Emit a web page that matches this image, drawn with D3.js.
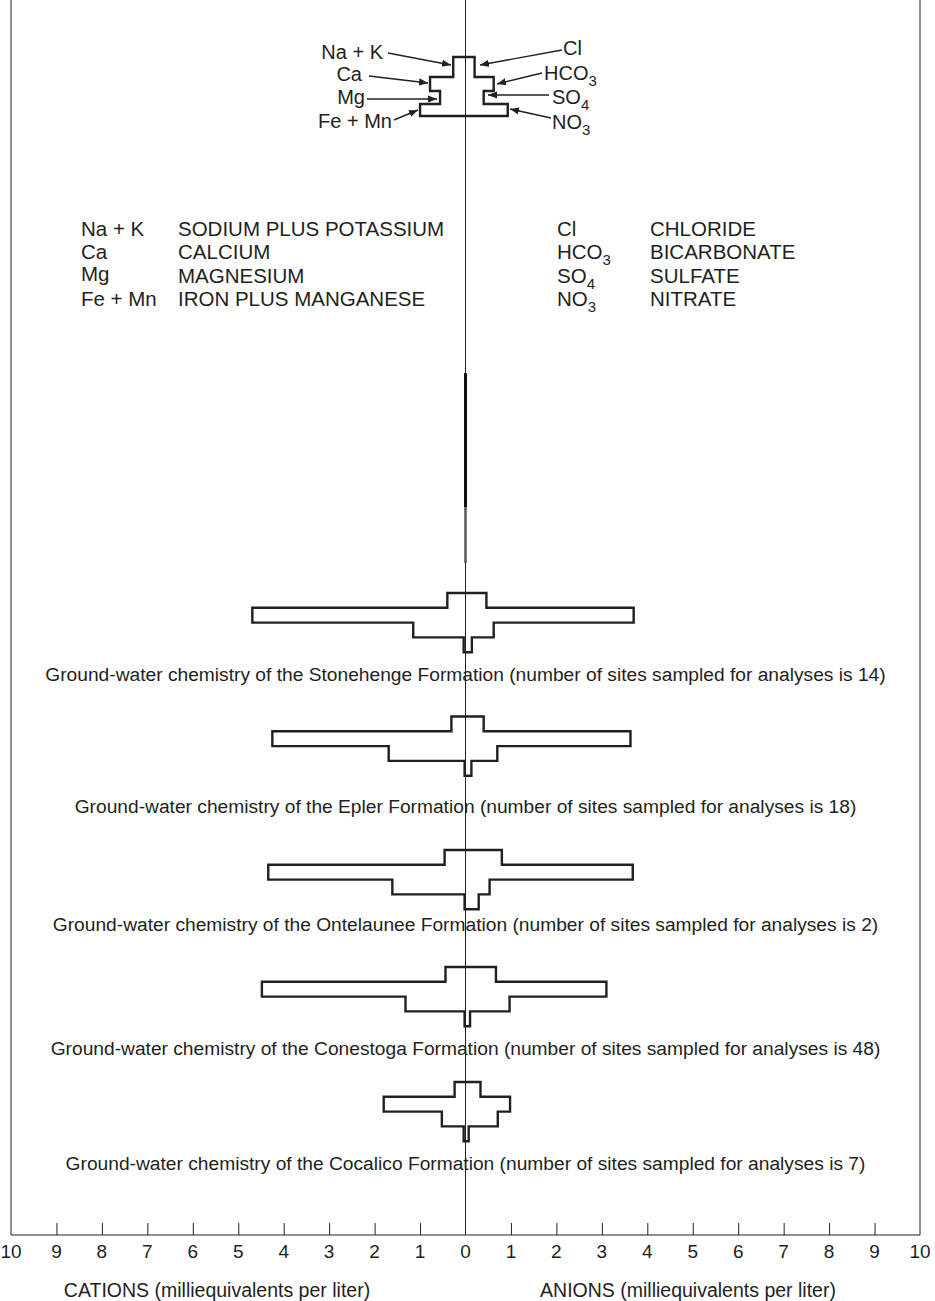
<!DOCTYPE html>
<meta charset="utf-8">
<style>
body { margin: 0; background: #fff; }
svg { font-family: "Liberation Sans", Arial, Helvetica, sans-serif; fill: #231f20; }
.frame, .center { stroke: #231f20; fill: none; }
.stiff { fill: none; stroke: #231f20; stroke-width: 2.4; stroke-linejoin: miter; }
.arrow { stroke: #231f20; stroke-width: 1.4; }
</style>
<svg width="935" height="1301"></svg>
<script src="https://cdn.jsdelivr.net/npm/d3@7"></script>
<script>

// formations, from top to bottom
var formations = ["Stonehenge", "Epler", "Ontelaunee", "Conestoga", "Cocalico"];
var sites = [14, 18, 2, 48, 7];

// milliequivalents per liter, rows: Na+K, Ca, Mg, Fe+Mn
var cations = [
  [0.40, 4.69, 1.15, 0.04],
  [0.31, 4.25, 1.69, 0.02],
  [0.46, 4.34, 1.61, 0.02],
  [0.44, 4.48, 1.32, 0.02],
  [0.24, 1.80, 0.52, 0.04]
];
// rows: Cl, HCO3, SO4, NO3
var anions = [
  [0.46, 3.70, 0.62, 0.14],
  [0.40, 3.63, 0.70, 0.13],
  [0.80, 3.68, 0.53, 0.29],
  [0.67, 3.10, 0.97, 0.10],
  [0.33, 0.98, 0.71, 0.07]
];

// explanation sketch at the top
var keyCations = [0.27, 0.78, 0.56, 1.00];
var keyAnions = [0.20, 0.62, 0.40, 0.93];

var cationCodes = [["Na + K"], ["Ca"], ["Mg"], ["Fe + Mn"]];
var anionCodes = [["Cl"], ["HCO", "3"], ["SO", "4"], ["NO", "3"]];
var cationNames = ["SODIUM PLUS POTASSIUM", "CALCIUM", "MAGNESIUM", "IRON PLUS MANGANESE"];
var anionNames = ["CHLORIDE", "BICARBONATE", "SULFATE", "NITRATE"];

var tickValues = d3.range(-10, 11);

var svg = d3.select("svg");

var x = d3.scaleLinear().domain([-10, 10]).range([11, 920]);
var axisY = 1235;

// frame
svg.append("path")
  .attr("class", "frame")
  .attr("d", "M" + x(-10) + ",0V" + axisY + "H" + x(10) + "V0");

svg.append("line")
  .attr("class", "center")
  .attr("x1", x(0)).attr("x2", x(0))
  .attr("y1", 0).attr("y2", axisY);

// short heavy piece on the centre line
svg.append("line")
  .attr("x1", x(0)).attr("x2", x(0)).attr("y1", 373).attr("y2", 507)
  .attr("stroke", "#111").attr("stroke-width", 3);
svg.append("line")
  .attr("x1", x(0)).attr("x2", x(0)).attr("y1", 507).attr("y2", 563)
  .attr("stroke", "#555").attr("stroke-width", 2.5);

// bottom axis
var axis = d3.axisTop(x)
  .tickValues(tickValues.filter(function(d){ return Math.abs(d) < 10 && d != 0; }))
  .tickSize(12)
  .tickFormat("");
svg.append("g")
  .attr("transform", "translate(0," + axisY + ")")
  .call(axis)
  .call(function(g){
    g.select(".domain").remove();
    g.selectAll("line").attr("stroke", "#231f20");
  });

svg.append("g").selectAll("text")
  .data(tickValues)
  .enter().append("text")
    .attr("x", function(d){ return x(d); })
    .attr("y", 1258)
    .attr("text-anchor", "middle")
    .style("font-size", "19px")
    .text(function(d){ return Math.abs(d); });

svg.append("text").attr("x", 217).attr("y", 1297).attr("text-anchor", "middle")
  .style("font-size", "19.5px").text("CATIONS (milliequivalents per liter)");
svg.append("text").attr("x", 688).attr("y", 1297).attr("text-anchor", "middle")
  .style("font-size", "19.5px").text("ANIONS (milliequivalents per liter)");

// one stiff polygon
function stiffPath(cat, an, y) {
  var p = d3.path();
  p.moveTo(x(-cat[0]), y(0));
  p.lineTo(x(an[0]), y(0));
  for (var i = 0; i < 4; i++) {
    p.lineTo(x(an[i]), y(i + 1));
    if (i < 3) p.lineTo(x(an[i + 1]), y(i + 1));
  }
  p.lineTo(x(-cat[3]), y(4));
  for (var j = 3; j >= 0; j--) {
    p.lineTo(x(-cat[j]), y(j));
    if (j > 0) p.lineTo(x(-cat[j - 1]), y(j));
  }
  p.closePath();
  return p.toString();
}

var slotTop = [593, 716.5, 850, 967, 1082];
var captionY = [681, 813, 931, 1055, 1170];
var rowH = 14.8;

formations.forEach(function(name, i) {
  var y = d3.scaleLinear().domain([0, 4]).range([slotTop[i], slotTop[i] + 4 * rowH]);
  svg.append("path")
    .attr("class", "stiff")
    .attr("d", stiffPath(cations[i], anions[i], y));
  svg.append("text")
    .attr("x", x(0))
    .attr("y", captionY[i])
    .attr("text-anchor", "middle")
    .style("font-size", "19.2px")
    .text("Ground-water chemistry of the " + name +
      " Formation (number of sites sampled for analyses is " + sites[i] + ")");
});

// explanation sketch
var keyY = d3.scaleLinear().domain([0, 1, 2, 3, 4]).range([57, 77, 91, 104, 116]);
svg.append("path")
  .attr("class", "stiff")
  .attr("d", stiffPath(keyCations, keyAnions, keyY));

svg.append("defs").append("marker")
  .attr("id", "head")
  .attr("viewBox", "0 0 10 10")
  .attr("refX", 10).attr("refY", 5)
  .attr("markerWidth", 9).attr("markerHeight", 9)
  .attr("markerUnits", "userSpaceOnUse")
  .attr("orient", "auto")
  .append("path").attr("d", "M0,1L10,5L0,9z").attr("fill", "#231f20");

// labels and arrow ends for the sketch
var leftLabels = [[383, 59], [362, 81], [365, 104], [392, 128]];
var leftArrows = [[388, 53, 451, 65], [369, 76, 428, 83], [367, 99, 437, 99], [394, 120, 418, 110]];
var rightLabels = [[563, 55], [544, 80], [552, 104], [552, 129]];
var rightArrows = [[562, 50, 480, 65], [542, 73, 497, 84], [549, 95, 488, 95], [551, 118, 510, 109]];

function code(sel, parts, big, small) {
  sel.append("tspan").style("font-size", big + "px").text(parts[0]);
  if (parts[1]) sel.append("tspan").attr("dy", big * 0.3).style("font-size", small + "px").text(parts[1]);
}

cationCodes.forEach(function(c, i) {
  var t = svg.append("text").attr("x", leftLabels[i][0]).attr("y", leftLabels[i][1]).attr("text-anchor", "end");
  code(t, c, 20, 15);
  var a = leftArrows[i];
  svg.append("line").attr("class", "arrow")
    .attr("x1", a[0]).attr("y1", a[1]).attr("x2", a[2]).attr("y2", a[3])
    .attr("marker-end", "url(#head)");
});
anionCodes.forEach(function(c, i) {
  var t = svg.append("text").attr("x", rightLabels[i][0]).attr("y", rightLabels[i][1]);
  code(t, c, 20, 15);
  var a = rightArrows[i];
  svg.append("line").attr("class", "arrow")
    .attr("x1", a[0]).attr("y1", a[1]).attr("x2", a[2]).attr("y2", a[3])
    .attr("marker-end", "url(#head)");
});

// explanation table
var tableY = [236, 259, 283, 306];
cationCodes.forEach(function(c, i) {
  var t = svg.append("text").attr("x", 81).attr("y", tableY[i] - (i == 2 ? 2 : 0));
  code(t, c, 20.5, 15);
  svg.append("text").attr("x", 178).attr("y", tableY[i]).style("font-size", "20.5px").text(cationNames[i]);
});
anionCodes.forEach(function(c, i) {
  var t = svg.append("text").attr("x", 557).attr("y", tableY[i]);
  code(t, c, 20.5, 15);
  svg.append("text").attr("x", 650).attr("y", tableY[i]).style("font-size", "20.5px").text(anionNames[i]);
});

</script>
